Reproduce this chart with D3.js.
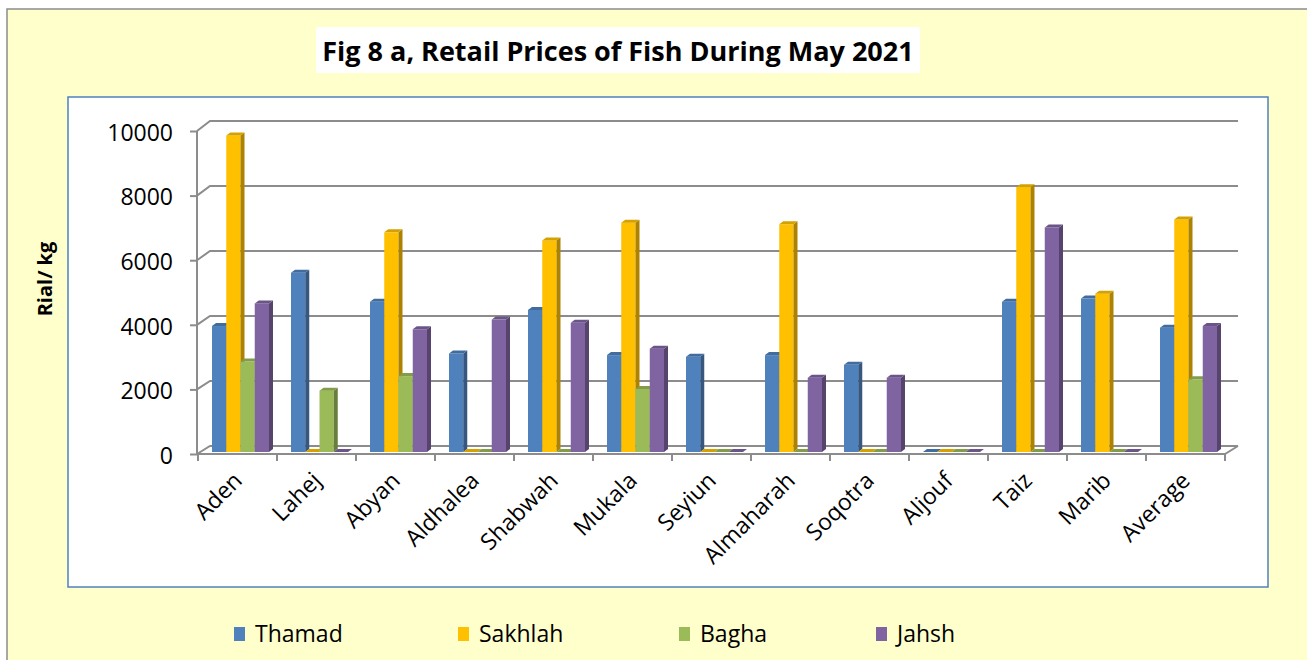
<!DOCTYPE html>
<html>
<head>
<meta charset="utf-8">
<script src="https://cdn.jsdelivr.net/npm/d3@7"></script>
<style>
  body { margin: 0; background: #fff; }
  text { font-family: "Open Sans", sans-serif; fill: #000; }
</style>
</head>
<body>
<div id="chart"></div>
<script>
// data
var categories = ["Aden", "Lahej", "Abyan", "Aldhalea", "Shabwah", "Mukala", "Seyiun",
  "Almaharah", "Soqotra", "Aljouf", "Taiz", "Marib", "Average"];
var seriesNames = ["Thamad", "Sakhlah", "Bagha", "Jahsh"];
var thamad  = [3900, 5550, 4650, 3050, 4400, 3000, 2950, 3000, 2700, 0, 4650, 4750, 3850];
var sakhlah = [9800, 0, 6800, 0, 6550, 7100, 0, 7050, 0, 0, 8200, 4900, 7200];
var bagha   = [2800, 1900, 2350, 0, 0, 1950, 0, 0, 0, 0, 0, 0, 2250];
var jahsh   = [4600, 0, 3800, 4100, 4000, 3200, 0, 2300, 2300, 0, 6950, 0, 3900];
var yTicks = [0, 2000, 4000, 6000, 8000, 10000];
var colors = ["#4F81BD", "#FFC000", "#9BBB59", "#8064A2"];

var svgWidth = 1307;
var svgHeight = 660;

var svg = d3.select("#chart")
  .append("svg")
  .attr("width", svgWidth)
  .attr("height", svgHeight);

// chart area + plot area
svg.append("rect")
  .attr("x", 7).attr("y", 9)
  .attr("width", 1320).attr("height", 670)
  .attr("fill", "#FFFFCC")
  .attr("stroke", "#8c8c8c").attr("stroke-width", 1.5);

svg.append("rect")
  .attr("x", 68).attr("y", 97)
  .attr("width", 1200).attr("height", 490)
  .attr("fill", "#fff")
  .attr("stroke", "#4F81BD").attr("stroke-width", 1.5);

// title
svg.append("rect")
  .attr("x", 316).attr("y", 27)
  .attr("width", 604).attr("height", 46)
  .attr("fill", "#fff");
svg.append("text")
  .attr("x", 618).attr("y", 61)
  .attr("text-anchor", "middle")
  .style("font-size", "27px").style("font-weight", "bold")
  .text("Fig 8 a, Retail Prices of Fish During May 2021");

// 3d depth
var dx = 13;
var x0 = 198, x1 = 1225;

var xScale = d3.scaleBand().domain(categories).range([x0, x1]);
var xInner = d3.scaleBand().domain(seriesNames).range([14, 71]);
var yFront = d3.scaleLinear().domain([0, 10000]).range([454, 131]);
var yBack = d3.scaleLinear().domain([0, 10000]).range([446, 121]);
var yBar = d3.scaleLinear().domain([0, 10000]).range([452, 129]);

var gridColor = "#8c8c8c";

// back wall gridlines
var grid = svg.append("g");
yTicks.forEach(function(v) {
  grid.append("polyline")
    .attr("points", [[x0 - 1, yFront(v)], [x0 - 1 + dx, yBack(v)], [x1 + dx, yBack(v)]].join(" "))
    .attr("fill", "none").attr("stroke", gridColor).attr("stroke-width", 2);
});
// floor front + right edge
grid.append("polyline")
  .attr("points", [[x0 - 1, yFront(0)], [x1, yFront(0)], [x1 + dx, yBack(0)]].join(" "))
  .attr("fill", "none").attr("stroke", gridColor).attr("stroke-width", 2);
// left axis line
grid.append("line")
  .attr("x1", x0 - 1).attr("x2", x0 - 1)
  .attr("y1", yFront(10000)).attr("y2", yFront(0))
  .attr("stroke", gridColor).attr("stroke-width", 2);

// y axis
var leftAxis = d3.axisLeft(yFront)
  .tickValues(yTicks)
  .tickFormat(d3.format("d"))
  .tickSize(7).tickPadding(17);
var yAxisG = svg.append("g")
  .attr("transform", "translate(" + (x0 - 1) + ",0)")
  .call(leftAxis);
yAxisG.select(".domain").remove();
yAxisG.selectAll("line").attr("stroke", gridColor).attr("stroke-width", 2);
yAxisG.selectAll("text")
  .style("font-size", "23px")
  .attr("fill", "#000")
  .attr("dy", "0.4em");

// x ticks at category boundaries
var bounds = categories.map(function(c) { return xScale(c); }).concat([x1]);
svg.append("g").selectAll("line")
  .data(bounds)
  .enter()
  .append("line")
  .attr("x1", d => d).attr("x2", d => d)
  .attr("y1", yFront(0)).attr("y2", yFront(0) + 7)
  .attr("stroke", gridColor).attr("stroke-width", 2);

// x labels
var bottomAxis = d3.axisBottom(xScale).tickSize(0);
var xAxisG = svg.append("g")
  .attr("transform", "translate(0," + yFront(0) + ")")
  .call(bottomAxis);
xAxisG.select(".domain").remove();
xAxisG.selectAll("text")
  .style("font-size", "23px")
  .attr("fill", "#000")
  .attr("text-anchor", "end")
  .attr("dy", 0)
  .attr("y", 0).attr("x", 0)
  .attr("transform", "translate(6,28) rotate(-45)");

// bars
var table = [];
categories.forEach(function(c, i) {
  [thamad, sakhlah, bagha, jahsh].forEach(function(s, j) {
    table.push({ cat: c, series: seriesNames[j], value: s[i], color: colors[j] });
  });
});

var bw = xInner.bandwidth();
var bdx = 4, bdy = 3;

var barsGroup = svg.append("g");
var bar = barsGroup.selectAll("g")
  .data(table)
  .enter()
  .append("g");

bar.append("rect")
  .attr("x", d => xScale(d.cat) + xInner(d.series))
  .attr("y", d => yBar(d.value))
  .attr("width", bw)
  .attr("height", d => yBar(0) - yBar(d.value))
  .attr("fill", d => d.color);

// side face
bar.append("polygon")
  .attr("points", function(d) {
    var xl = xScale(d.cat) + xInner(d.series) + bw;
    var yt = yBar(d.value), yb = yBar(0);
    return [[xl, yt], [xl + bdx, yt - bdy], [xl + bdx, yb - bdy], [xl, yb]].join(" ");
  })
  .attr("fill", d => d3.color(d.color).darker(1.1));

// top face
bar.append("polygon")
  .attr("points", function(d) {
    var xl = xScale(d.cat) + xInner(d.series);
    var yt = yBar(d.value);
    return [[xl, yt], [xl + bw, yt], [xl + bw + bdx, yt - bdy], [xl + bdx, yt - bdy]].join(" ");
  })
  .attr("fill", d => d3.color(d.color).darker(0.5));

// y axis title
svg.append("text")
  .attr("transform", "translate(52,279) rotate(-90)")
  .attr("text-anchor", "middle")
  .style("font-size", "20px").style("font-weight", "bold")
  .text("Rial/ kg");

// legend
var legendX = [234, 458, 679, 876];
var legend = svg.append("g").selectAll("g")
  .data(seriesNames)
  .enter()
  .append("g")
  .attr("transform", (d, i) => "translate(" + legendX[i] + ",627)");
legend.append("rect")
  .attr("width", 11).attr("height", 14)
  .attr("fill", (d, i) => colors[i]);
legend.append("text")
  .attr("x", 21).attr("y", 15)
  .style("font-size", "23px")
  .text(d => d);
</script>
</body>
</html>
